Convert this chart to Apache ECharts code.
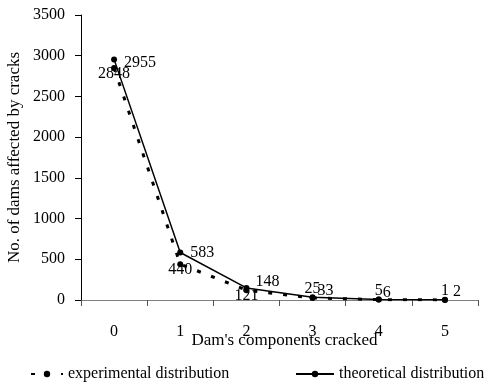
<!DOCTYPE html>
<html>
<head>
<meta charset="utf-8">
<script src="https://cdn.jsdelivr.net/npm/echarts@6/dist/echarts.min.js"></script>
<style>html,body{margin:0;padding:0;background:#fff;}#c{width:484px;height:382px;}</style>
</head>
<body>
<div id="c"></div>
<script>
var categories = ['0', '1', '2', '3', '4', '5'];
var experimental = [2848, 440, 121, 25, 5, 1];
var theoretical = [2955, 583, 148, 33, 6, 2];
var yTicks = { min: 0, max: 3500, interval: 500 };

var FONT = 'Liberation Serif';
var expLabelPos = ['bottom', 'bottom', 'bottom', 'top', 'top', 'top'];
var expLabelDist = [-5, -5, -5, -2, -2, -2];
var theoLabelOffset = [[7, 3], [7, 0], [6, -6], [2, -7], [1, -7], [5, -8]];

var chart = echarts.init(document.getElementById('c'), null, { renderer: 'canvas' });

var expData = experimental.map(function (v, i) {
  return { value: v, label: { position: expLabelPos[i], distance: expLabelDist[i] } };
});
var theoData = theoretical.map(function (v, i) {
  return { value: v, label: { position: 'right', distance: 0, offset: theoLabelOffset[i] } };
});

var labelStyle = { show: true, color: '#000', fontFamily: FONT, fontSize: 16 };

chart.setOption({
  animation: false,
  backgroundColor: '#fff',
  textStyle: { fontFamily: FONT, color: '#000' },
  grid: { left: 81, right: 6, top: 15, bottom: 82, containLabel: false, outerBoundsMode: 'none' },
  legend: [
    {
      data: ['experimental distribution'],
      left: 25, top: 361,
      itemWidth: 32, itemHeight: 8, itemGap: 0,
      textStyle: { fontFamily: FONT, fontSize: 16, color: '#000' }
    },
    {
      data: ['theoretical distribution'],
      left: 290, top: 361,
      itemWidth: 38, itemHeight: 8, itemGap: 0,
      textStyle: { fontFamily: FONT, fontSize: 16, color: '#000' }
    }
  ],
  xAxis: {
    type: 'category',
    data: categories,
    boundaryGap: true,
    name: "Dam's components cracked",
    nameLocation: 'middle',
    nameGap: 32,
    nameMoveOverlap: false,
    nameTextStyle: { fontFamily: FONT, fontSize: 17, color: '#000', padding: [0, 0, 0, 10] },
    axisLine: { show: true, lineStyle: { color: '#808080', width: 1 } },
    axisTick: { show: true, inside: false, length: 6, lineStyle: { color: '#555' } },
    axisLabel: { fontFamily: FONT, fontSize: 16, color: '#000', margin: 24 },
    splitLine: { show: false }
  },
  yAxis: {
    type: 'value',
    min: yTicks.min, max: yTicks.max, interval: yTicks.interval,
    name: 'No. of dams affected by cracks',
    nameLocation: 'middle',
    nameGap: 58,
    nameMoveOverlap: false,
    nameRotate: 90,
    nameTextStyle: { fontFamily: FONT, fontSize: 17, color: '#000' },
    axisLine: { show: true, lineStyle: { color: '#000', width: 1 } },
    axisTick: { show: true, inside: false, length: 6, lineStyle: { color: '#000' } },
    axisLabel: {
      fontFamily: FONT, fontSize: 16, color: '#000', margin: 16,
      padding: [5, 0, 0, 0],
      formatter: function (v) { return String(v); }
    },
    splitLine: { show: false }
  },
  series: [
    {
      name: 'experimental distribution',
      type: 'line',
      data: expData,
      symbol: 'circle', symbolSize: 6,
      itemStyle: { color: '#000' },
      lineStyle: { color: '#000', width: 3, type: [4, 11], cap: 'butt' },
      label: labelStyle,
      z: 3
    },
    {
      name: 'theoretical distribution',
      type: 'line',
      data: theoData,
      symbol: 'circle', symbolSize: 6,
      itemStyle: { color: '#000' },
      lineStyle: { color: '#000', width: 1.5, type: 'solid' },
      label: labelStyle,
      z: 4
    }
  ]
});
</script>
</body>
</html>
